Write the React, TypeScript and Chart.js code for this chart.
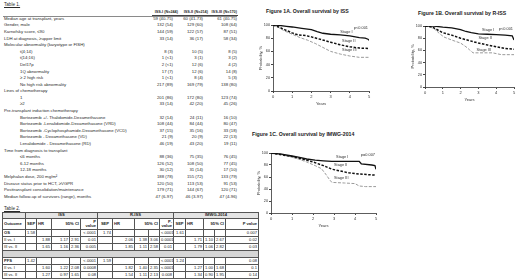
import React, { useEffect, useRef } from "react";
import { Chart, registerables } from "chart.js";
Chart.register(...registerables);

const FONT = "'Liberation Sans', Arial, sans-serif";

// ---------- Figure data (years, survival %) ----------
const issYearsI = [0, 0.3, 0.7, 1, 1.5, 2, 2.3, 2.6, 3, 3.5, 4, 4.5, 4.8, 4.95, 5];
const issSurvI = [100, 99.5, 98, 97, 95, 93, 90, 87.5, 86, 85, 83.5, 81, 80, 78.5, 77];
const issYearsII = [0, 0.3, 0.6, 1, 1.3, 1.7, 2, 2.5, 3, 3.5, 4, 4.5, 5];
const issSurvII = [100, 97, 93, 88, 85, 84, 82, 78, 74, 70, 67, 65, 64.5];
const issYearsIII = [0, 0.3, 0.6, 1, 1.4, 1.8, 2.2, 2.6, 3, 3.5, 4, 4.5, 5];
const issSurvIII = [100, 96, 91, 86, 81, 77, 72, 66, 60, 56, 53, 51, 51];

const rissYearsI = [0, 0.5, 1, 1.5, 2, 2.3, 2.6, 3, 3.5, 4, 4.5, 4.9, 5];
const rissSurvI = [100, 100, 98, 97, 94, 91, 89, 87, 86.5, 86, 85, 84, 77];
const rissYearsII = [0, 0.3, 0.5, 0.8, 1, 1.5, 2, 2.5, 3, 3.5, 4, 4.5, 5];
const rissSurvII = [100, 99, 97, 92, 89, 85, 80, 76, 72, 69, 66, 63, 62];
const rissYearsIII = [0, 0.3, 0.5, 0.8, 1.06, 1.5, 2, 2.3, 2.5, 2.7, 3, 3.5, 3.8, 4.3, 5];
const rissSurvIII = [100, 98, 96, 88, 82, 77, 72, 66, 61, 56, 56, 56, 56, 53, 53];

const imwgYearsI = [0, 0.5, 1, 1.3, 1.7, 2.1, 2.5, 2.9, 3.5, 4.2, 4.3, 4.8, 4.95, 5];
const imwgSurvI = [100, 98, 95, 93, 90, 88, 87, 86, 86, 86, 82, 80, 79, 73];
const imwgYearsII = [0, 0.5, 1, 1.5, 2, 2.5, 2.9, 3.3, 3.7, 4.2, 5];
const imwgSurvII = [100, 97, 94, 90, 85, 79, 73, 70, 67, 65, 63];
const imwgYearsIII = [0, 0.5, 1, 1.3, 1.7, 2.1, 2.4, 2.6, 2.8, 2.9, 3.5, 4, 4.2, 4.5, 5];
const imwgSurvIII = [100, 98, 93, 90, 85, 79, 74, 65, 55, 51, 50, 49, 45, 44, 44];

const stageNames = ["Stage I", "Stage II", "Stage III"];
const issLabelPos = [[3.5, 90], [3.6, 76], [3.6, 62]];
const rissLabelPos = [[3.2, 93], [3.0, 80], [2.9, 61]];
const imwgLabelPos = [[3.1, 94], [3.0, 80], [3.0, 58]];
const issP = "p<0.001";
const rissP = "p<0.001";
const imwgP = "p=0.007";

const xTickValues = [0, 1, 2, 3, 4, 5];
const yTickValues = [0, 20, 40, 60, 80, 100];

// ---------- Table 1 ----------
const t1Header = ["ISS-I (N=244)", "ISS-II (N=214)", "ISS-III (N=170)"];
const t1Labels = [
  "Median age at transplant, years", "Gender, male", "Karnofsky score, \u226490",
  "LDH at diagnosis, \u2265upper limit", "Molecular abnormality (karyotype or FISH)",
  "t(4;14)", "t(14;16)", "Del17p", "1Q abnormality", "\u2265 2 high risk", "No high risk abnormality",
  "Lines of chemotherapy", "1", "\u22652", "Pre-transplant induction chemotherapy",
  "Bortezomib +/- Thalidomide-Dexamethasone", "Bortezomib -Lenalidomide-Dexamethasone  (VRD)",
  "Bortezomib -Cyclophosphamide-Dexamethasone  (VCD)", "Bortezomib - Dexamethasone  (VD)",
  "Lenalidomide - Dexamethasone  (RD)", "Time from diagnosis to transplant",
  "\u22646 months", "6-12 months", "12-18 months", "Melphalan dose, 200 mg/m\u00b2",
  "Disease status prior to HCT, \u2265VGPR", "Posttransplant consolidation/maintenance",
  "Median follow-up of survivors (range), months",
];
const t1Indent = [0, 0, 0, 0, 0, 1, 1, 1, 1, 1, 1, 0, 1, 1, 0, 1, 1, 1, 1, 1, 0, 1, 1, 1, 0, 0, 0, 0];
const t1Col1 = ["59 (40-75)", "132 (54)", "144 (59)", "33 (14)", "", "8 (3)", "1 (<1)", "2 (<1)", "17 (7)", "1 (<1)", "217 (89)", "", "201 (86)", "33 (14)", "", "32 (14)", "108 (44)", "37 (15)", "21 (9)", "46 (19)", "", "88 (36)", "126 (52)", "30 (12)", "188 (78)", "120 (50)", "179 (71)", "47 (6-97)"];
const t1Col2 = ["60 (41-73)", "129 (60)", "122 (57)", "36 (17)", "", "10 (5)", "3 (1)", "12 (6)", "12 (6)", "8 (4)", "169 (79)", "", "172 (80)", "42 (20)", "", "24 (11)", "84 (44)", "35 (16)", "20 (9)", "43 (20)", "", "75 (35)", "108 (50)", "31 (14)", "155 (72)", "113 (53)", "144 (67)", "46 (3-97)"];
const t1Col3 = ["61 (40-75)", "108 (64)", "87 (51)", "58 (34)", "", "8 (5)", "3 (2)", "4 (2)", "14 (8)", "5 (3)", "138 (80)", "", "123 (74)", "45 (26)", "", "16 (10)", "80 (47)", "33 (18)", "22 (13)", "19 (11)", "", "76 (45)", "77 (45)", "17 (10)", "133 (79)", "91 (53)", "120 (71)", "47 (4-96)"];

// ---------- Table 2 ----------
const t2Groups = ["ISS", "R-ISS", "IMWG-2014"];
const t2SubHead = ["SEP", "HR", "95% CI", "P value"];
const t2Outcomes = ["OS", "II vs. I", "III vs. II", "PFS", "II vs. I", "III vs. II"];
const t2Iss = [
  ["1.58", "", "", "", "<.0001"], ["", "1.88", "1.17", "2.91", "0.01"], ["", "1.65", "1.16", "2.36", "0.005"],
  ["1.42", "", "", "", "<.0001"], ["", "1.60", "1.22", "2.08", "0.0008"], ["", "1.27", "0.97", "1.65", "0.08"],
];
const t2Riss = [
  ["1.74", "", "", "", "<.0001"], ["", "2.06", "1.38", "3.06", "0.0001"], ["", "1.85", "1.11", "2.58", "0.01"],
  ["1.59", "", "", "", "<.0001"], ["", "1.82", "1.40", "2.35", "<.0001"], ["", "1.54", "1.11", "2.13", "0.008"],
];
const t2Imwg = [
  ["1.61", "", "", "", "0.007"], ["", "1.71", "1.10", "2.67", "0.02"], ["", "1.79", "1.06", "2.82", "0.03"],
  ["1.24", "", "", "", "0.08"], ["", "1.27", "1.00", "1.68", "0.1"], ["", "1.34", "0.90", "1.95", "0.14"],
];
const t2ColW = [23, 11, 15, 18, 11, 17, 15, 22, 14, 11, 14, 12, 18, 11, 11, 33];

type Series = { t: number[]; s: number[] };

function KMChart(props: {
  left: number; top: number; width: number; height: number;
  series: Series[]; labelPos: number[][]; pText: string;
}) {
  const ref = useRef<HTMLCanvasElement>(null);
  useEffect(() => {
    const styles = [
      { color: "#111", width: 1.3, dash: [] as number[] },
      { color: "#111", width: 1.5, dash: [2.5, 1.5] },
      { color: "#9a9a9a", width: 1, dash: [3, 1.5] },
    ];
    const labelPlugin = {
      id: "kmLabels",
      afterDatasetsDraw(chart: any) {
        const c = chart.ctx;
        const xs = chart.scales.x, ys = chart.scales.y;
        c.save();
        c.fillStyle = "#333";
        c.font = `3.9px ${FONT}`;
        c.textBaseline = "middle";
        c.textAlign = "left";
        props.labelPos.forEach((p, i) => {
          c.fillText(stageNames[i], xs.getPixelForValue(p[0]), ys.getPixelForValue(p[1]));
        });
        c.textAlign = "right";
        c.fillText(props.pText, chart.chartArea.right - 1, ys.getPixelForValue(96));
        c.restore();
      },
    };
    const chart = new Chart(ref.current as HTMLCanvasElement, {
      type: "line",
      data: {
        datasets: props.series.map((s, i) => ({
          label: stageNames[i],
          data: s.t.map((x, j) => ({ x, y: s.s[j] })),
          borderColor: styles[i].color,
          borderWidth: styles[i].width,
          borderDash: styles[i].dash,
          pointRadius: 0,
          fill: false,
          tension: 0,
        })),
      },
      options: {
        responsive: false,
        animation: false,
        devicePixelRatio: 1,
        layout: { padding: { top: 7, right: 4, left: 0, bottom: 0 } },
        plugins: { legend: { display: false }, tooltip: { enabled: false } },
        scales: {
          x: {
            type: "linear", min: 0, max: 5,
            afterBuildTicks: (s: any) => { s.ticks = xTickValues.map((v) => ({ value: v })); },
            ticks: { font: { size: 4, family: FONT }, color: "#333", padding: 1, maxRotation: 0, autoSkip: false },
            grid: { drawOnChartArea: false, tickLength: 2, color: "#444" },
            border: { color: "#333", width: 0.8 },
            title: { display: true, text: "Years", font: { size: 4, family: FONT }, color: "#333", padding: 1 },
            afterFit: (s: any) => { s.height = 16; },
          },
          y: {
            min: 0, max: 100,
            afterBuildTicks: (s: any) => { s.ticks = yTickValues.map((v) => ({ value: v })); },
            ticks: { font: { size: 3.8, family: FONT }, color: "#333", padding: 1 },
            grid: { drawOnChartArea: false, tickLength: 2, color: "#444" },
            border: { color: "#333", width: 0.8 },
            title: { display: true, text: "Probability, %", font: { size: 4, family: FONT }, color: "#333", padding: 0 },
            afterFit: (s: any) => { s.width = 15; },
          },
        },
      } as any,
      plugins: [labelPlugin],
    });
    return () => chart.destroy();
  }, []);
  return (
    <canvas
      ref={ref}
      width={props.width}
      height={props.height}
      style={{ position: "absolute", left: props.left, top: props.top, width: props.width, height: props.height }}
    />
  );
}

const txt: React.CSSProperties = { position: "absolute", whiteSpace: "nowrap", fontFamily: FONT, color: "#2a2a2a", lineHeight: 1 };

function Table1() {
  const rowY = (i: number) => 19 + i * 6.59;
  const rights = [173, 203, 237];
  const cols = [t1Col1, t1Col2, t1Col3];
  return (
    <>
      <div style={{ ...txt, left: 4, top: 2.5, fontSize: 4.6, textDecoration: "underline" }}>Table 1.</div>
      {t1Header.map((h, i) => (
        <div key={h} style={{ ...txt, left: rights[i] - 40, width: 40 + (i === 2 ? 0 : 5), top: 10.8, fontSize: 3.8, fontWeight: 700, textAlign: "right" }}>{h}</div>
      ))}
      <div style={{ position: "absolute", left: 3, top: 15.5, width: 234, height: 0.7, background: "#8a8a8a" }} />
      <div style={{ position: "absolute", left: 152, top: 15, width: 86, height: 1.3, background: "#444" }} />
      {t1Labels.map((l, i) => (
        <React.Fragment key={i}>
          <div style={{ ...txt, left: t1Indent[i] ? 20 : 4, top: rowY(i) - 2.2, fontSize: 4.3 }}>{l}</div>
          {cols.map((c, k) => c[i] ? (
            <div key={k} style={{ ...txt, left: rights[k] - 30, width: 30, textAlign: "right", top: rowY(i) - 2.2, fontSize: 4.3 }}>{c[i]}</div>
          ) : null)}
        </React.Fragment>
      ))}
    </>
  );
}

function Table2() {
  const cell: React.CSSProperties = { border: "0.8px solid #555", padding: "0 1px", fontSize: 4.1, lineHeight: 1, overflow: "hidden", whiteSpace: "nowrap", textAlign: "right", color: "#222" };
  const head: React.CSSProperties = { ...cell, fontWeight: 700, textAlign: "center", background: "#e4e4e4" };
  const groups = [t2Iss, t2Riss, t2Imwg];
  const total = t2ColW.reduce((a, b) => a + b, 0);
  const rowH = 7;
  return (
    <>
      <div style={{ ...txt, left: 4, top: 206.5, fontSize: 4.6, textDecoration: "underline" }}>Table 2.</div>
      <table style={{ position: "absolute", left: 2, top: 212, width: total, borderCollapse: "collapse", tableLayout: "fixed", fontFamily: FONT }}>
        <colgroup>
          {t2ColW.map((w, i) => <col key={i} style={{ width: w }} />)}
        </colgroup>
        <tbody>
          <tr style={{ height: 6 }}>
            <td style={head}></td>
            {t2Groups.map((g) => <td key={g} colSpan={5} style={head}>{g}</td>)}
          </tr>
          <tr style={{ height: 11 }}>
            <td style={{ ...head, background: "#fff", textAlign: "left" }}>Outcome</td>
            {t2Groups.map((g) => (
              <React.Fragment key={g}>
                <td style={{ ...head, background: "#fff" }}>{t2SubHead[0]}</td>
                <td style={{ ...head, background: "#fff", textAlign: "left" }}>{t2SubHead[1]}</td>
                <td colSpan={2} style={{ ...head, background: "#fff", textAlign: "right" }}>{t2SubHead[2]}</td>
                <td style={{ ...head, background: "#fff", whiteSpace: "normal", textAlign: "right" }}>{g === "R-ISS" ? "P-value" : t2SubHead[3]}</td>
              </React.Fragment>
            ))}
          </tr>
          {t2Outcomes.map((o, r) => (
            <React.Fragment key={r}>
              {r === 3 ? (
                <tr style={{ height: rowH }}><td colSpan={16} style={{ ...cell, background: "#d6d6d6" }}></td></tr>
              ) : null}
              <tr style={{ height: rowH }}>
                <td style={{ ...cell, textAlign: "left", fontWeight: r % 3 === 0 ? 700 : 400 }}>{o}</td>
                {groups.map((g, gi) => g[r].map((v, ci) => (
                  <td key={gi + "-" + ci} style={cell}>{v}</td>
                )))}
              </tr>
            </React.Fragment>
          ))}
        </tbody>
      </table>
    </>
  );
}

export default function App() {
  useEffect(() => { document.body.style.margin = "0"; }, []);
  const title: React.CSSProperties = { ...txt, fontSize: 5.2, fontWeight: 700, color: "#1a1a1a" };
  return (
    <div style={{ position: "absolute", left: 0, top: 0, width: 520, height: 280, background: "#fff", overflow: "hidden" }}>
      <Table1 />
      <Table2 />
      <div style={{ ...title, left: 266, top: 9 }}>Figure 1A. Overall survival by ISS</div>
      <div style={{ ...title, left: 418, top: 11 }}>Figure 1B. Overall survival by R-ISS</div>
      <div style={{ ...title, left: 252, top: 132 }}>Figure 1C. Overall survival by IMWG-2014</div>
      <KMChart left={258} top={18} width={115} height={89}
        series={[{ t: issYearsI, s: issSurvI }, { t: issYearsII, s: issSurvII }, { t: issYearsIII, s: issSurvIII }]}
        labelPos={issLabelPos} pText={issP} />
      <KMChart left={410} top={19} width={108} height={84}
        series={[{ t: rissYearsI, s: rissSurvI }, { t: rissYearsII, s: rissSurvII }, { t: rissYearsIII, s: rissSurvIII }]}
        labelPos={rissLabelPos} pText={rissP} />
      <KMChart left={256} top={146} width={124} height={83}
        series={[{ t: imwgYearsI, s: imwgSurvI }, { t: imwgYearsII, s: imwgSurvII }, { t: imwgYearsIII, s: imwgSurvIII }]}
        labelPos={imwgLabelPos} pText={imwgP} />
    </div>
  );
}
